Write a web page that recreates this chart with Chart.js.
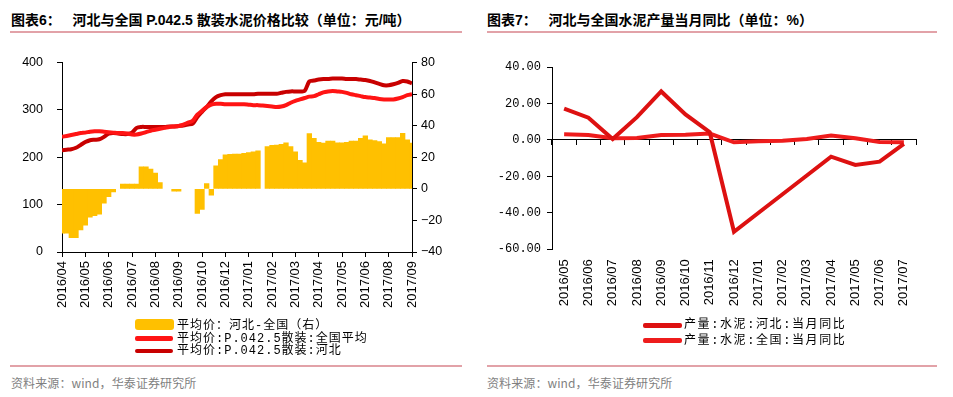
<!DOCTYPE html>
<html><head><meta charset="utf-8">
<script src="https://cdn.jsdelivr.net/npm/chart.js@4.4.1/dist/chart.umd.min.js"></script>
<style>
body{margin:0;width:953px;height:397px;background:#fff;position:relative;overflow:hidden;font-family:"Liberation Sans","Noto Sans CJK SC",sans-serif;}
.abs{position:absolute;white-space:nowrap;}
.title{font-weight:bold;font-size:14px;color:#000;top:11px;line-height:18px;}
.rule{position:absolute;height:2px;background:#e2a2a8;}
.src{font-size:12px;color:#7f7f7f;top:375px;line-height:16px;letter-spacing:0.1px;font-family:"Noto Sans CJK SC",sans-serif;}
.lg{font-family:"Liberation Mono","Noto Sans CJK SC",monospace;font-size:12px;color:#000;letter-spacing:1px;line-height:14px;}
.sw{position:absolute;}
canvas{position:absolute;top:0;}
</style></head>
<body>
<div class="abs title" style="left:11px">图表6：&nbsp;&nbsp;&nbsp;河北与全国 P.042.5 散装水泥价格比较（单位：元/吨）</div>
<div class="rule" style="left:10px;top:31px;width:452px"></div>
<div class="abs title" style="left:487px">图表7：&nbsp;&nbsp;&nbsp;河北与全国水泥产量当月同比（单位：%）</div>
<div class="rule" style="left:487px;top:31px;width:450px"></div>

<canvas id="left" width="476" height="320" style="left:0"></canvas>
<canvas id="right" width="476" height="320" style="left:477px"></canvas>

<div class="sw" style="left:135px;top:319px;width:39px;height:11px;background:#ffc000;border-radius:3px"></div>
<div class="abs lg" style="left:177px;top:319px">平均价：河北-全国（右）</div>
<div class="sw" style="left:135px;top:336px;width:38px;height:4.5px;background:#ff1414;border-radius:2px"></div>
<div class="abs lg" style="left:177px;top:331.5px">平均价:P.042.5散装:全国平均</div>
<div class="sw" style="left:135px;top:348.5px;width:38px;height:4.5px;background:#c80000;border-radius:2px"></div>
<div class="abs lg" style="left:177px;top:344px">平均价:P.042.5散装:河北</div>

<div class="sw" style="left:643px;top:322.5px;width:39px;height:5px;background:#dd1111;border-radius:2px"></div>
<div class="abs lg" style="left:684px;top:318px;letter-spacing:1.6px">产量:水泥:河北:当月同比</div>
<div class="sw" style="left:643px;top:338px;width:39px;height:5px;background:#ee1c1c;border-radius:2px"></div>
<div class="abs lg" style="left:684px;top:334px;letter-spacing:1.6px">产量:水泥:全国:当月同比</div>

<div class="rule" style="left:10px;top:365px;width:452px"></div>
<div class="abs src" style="left:11px">资料来源：wind，华泰证券研究所</div>
<div class="rule" style="left:487px;top:365px;width:450px"></div>
<div class="abs src" style="left:487px">资料来源：wind，华泰证券研究所</div>

<script>
// ---- Chart 6: weekly prices (index 0..75), tick label every 5 weeks ----
const xTickLabels = ['2016/04','2016/05','2016/06','2016/07','2016/08','2016/09','2016/10','2016/12','2017/01','2017/02','2017/03','2017/04','2017/05','2017/06','2017/08','2017/09'];

const spreadHebeiNation = [
 -28,-28,-31,-31,-26,-23,-18,-17,-16,-9,
 -5,-2,null,3,3,3,3,14,14,12.5,
 10,4,null,null,-1.5,-1.5,null,null,null,-15.6,
 -13,3.4,-4,14.5,18.5,21.5,21.8,22,22,22.5,
 23,23.5,24,null,26.7,27.5,27.7,28.2,29.2,26.7,
 23.5,18,16.5,35,32,29.5,29,30.3,30.3,29.2,
 29.2,29.5,30.3,30.3,32,33.5,31,30.5,30,28.5,
 32.4,32.4,32.4,35.2,31,29
];
const nationPrice = [
 243,245,247,249,251,252,254,255,255,254,
 253,252,251,251,250,248,248,250,253,256,
 258,260,262,264,265,266,269,273,277,290,
 298,306,311,313,313,312,312,312,312,312,
 311,310,310,309,308,307,306,307,310,315,
 319,322,325,328,329,333,337,339,340,339,
 338,336,333,331,329,327,326,325,323,322,
 322,322,324,327,331,333
];
const hebeiPrice = [
 215,216,217,220,226,232,236,237,238,243,
 250,251,250,249,249,252,262,264,264,264,
 264,264,264,265,265,266,267,269,271,285,
 296,306,318,327,331,333,333,333,333,333,
 333,333,334,334,334,334,334,336,338,339,
 339,339,340,360,362,364,365,365,366,366,
 366,365,365,365,364,363,361,358,355,352,
 352,354,357,361,360,356
];

// ---- Chart 7: monthly YoY ----
const months = ['2016/05','2016/06','2016/07','2016/08','2016/09','2016/10','2016/11','2016/12','2017/01','2017/02','2017/03','2017/04','2017/05','2017/06','2017/07'];
const hebeiYoY  = [17.2,12.2,0.5,12.5,26.6,14.0,4.2,-50.4,-40.1,-29.8,-19.5,-9.2,-13.7,-11.9,-2.2];
const nationYoY = [3.1,2.7,0.9,1.1,2.7,2.9,3.5,-1.3,-0.7,-0.4,0.5,2.4,0.9,-1.1,-1.3];

Chart.defaults.font.family = 'Liberation Sans';
Chart.defaults.color = '#000';

const xy = arr => arr.map((v,i)=>({x:i,y:v}));
const axisGrid = {display:true, drawOnChartArea:false, drawTicks:true, tickLength:5, color:'#000', lineWidth:1};
const axisBorder = {display:true, color:'#000', width:1};

new Chart(document.getElementById('left'), {
  type:'bar',
  data:{datasets:[
    {type:'line', label:'平均价:P.042.5散装:全国平均', data:xy(nationPrice), borderColor:'#ff1414', borderWidth:4, pointRadius:0, tension:0.3, yAxisID:'y', order:0},
    {type:'line', label:'平均价:P.042.5散装:河北', data:xy(hebeiPrice), borderColor:'#c80000', borderWidth:4, pointRadius:0, tension:0.3, yAxisID:'y', order:0},
    {type:'bar', label:'平均价：河北-全国（右）', data:xy(spreadHebeiNation), backgroundColor:'#ffc000', borderWidth:0, yAxisID:'y1', barPercentage:1, categoryPercentage:1, order:1}
  ]},
  options:{
    responsive:false, animation:false,
    layout:{padding:{top:62.5,left:0,right:0,bottom:0}},
    plugins:{legend:{display:false}, tooltip:{enabled:false}},
    scales:{
      x:{type:'linear', min:0, max:75, offset:false,
         afterFit(s){s.height=68;},
         ticks:{stepSize:5, autoSkip:false, maxRotation:90, minRotation:90, padding:4, font:{size:13}, color:'#000',
                callback:(v)=>xTickLabels[Math.round(v/5)]},
         grid:Object.assign({offset:false}, axisGrid), border:axisBorder},
      y:{position:'left', min:0, max:400,
         afterFit(s){s.width=62;},
         ticks:{stepSize:100, padding:14, font:{size:12.5}, color:'#000'},
         grid:axisGrid, border:axisBorder},
      y1:{position:'right', min:-40, max:80,
         afterFit(s){s.width=64;},
         ticks:{stepSize:20, padding:4, font:{size:12.5}, color:'#000', callback:(v)=> v<0 ? '\u2212'+(-v) : String(v)},
         grid:axisGrid, border:axisBorder}
    }
  }
});

new Chart(document.getElementById('right'), {
  type:'line',
  data:{labels:months, datasets:[
    {label:'产量:水泥:河北:当月同比', data:hebeiYoY, borderColor:'#dd1111', borderWidth:4, pointRadius:0, tension:0},
    {label:'产量:水泥:全国:当月同比', data:nationYoY, borderColor:'#ee1c1c', borderWidth:4, pointRadius:0, tension:0}
  ]},
  options:{
    responsive:false, animation:false,
    layout:{padding:{top:67,left:0,right:37,bottom:0}},
    plugins:{legend:{display:false}, tooltip:{enabled:false}},
    scales:{
      x:{type:'category', offset:true,
         afterFit(s){s.height=70.7;},
         grid:{display:false, drawTicks:false, tickLength:0}, border:{display:false},
         ticks:{autoSkip:false, maxRotation:90, minRotation:90, padding:10, font:{size:13}, color:'#000'}},
      x2:{type:'category', axis:'x', labels:months, position:{y:0}, offset:true,
         grid:Object.assign({offset:true}, axisGrid), border:axisBorder, ticks:{display:false}},
      y:{position:'left', min:-60, max:40,
         afterFit(s){s.width=75;},
         ticks:{stepSize:20, padding:6, font:{size:12, family:'Liberation Mono'}, color:'#000', callback:(v)=>v.toFixed(2)},
         grid:axisGrid, border:axisBorder}
    }
  }
});
</script>
</body></html>
